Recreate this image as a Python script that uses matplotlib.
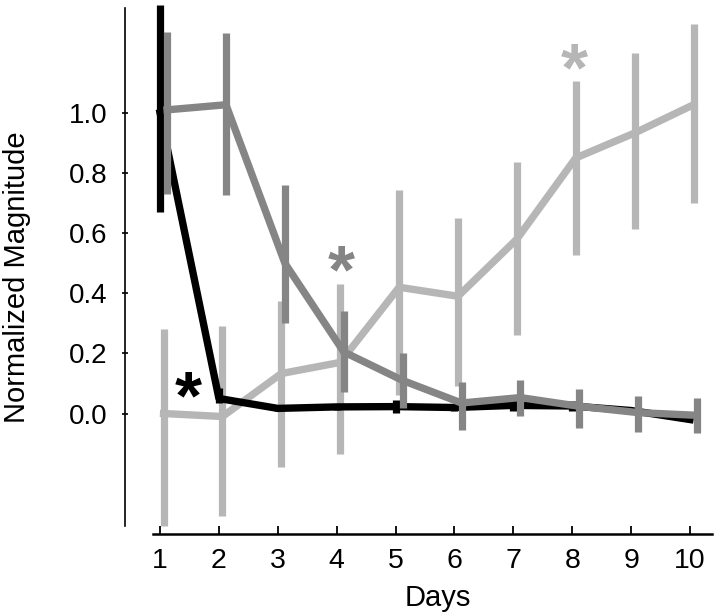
import numpy as np
import matplotlib
matplotlib.use('Agg')
import matplotlib.pyplot as plt

plt.rcParams['font.family'] = ['Liberation Sans', 'DejaVu Sans']

# Normalized magnitude over days, three groups (mean with lower / upper error)
days = np.arange(1, 11)

black_mean = [1.00, 0.05, 0.017, 0.022, 0.023, 0.020, 0.027, 0.025, 0.010, -0.020]
black_lo = [0.33, 0.015, 0.010, 0.010, 0.022, 0.010, 0.020, 0.015, 0.010, 0.0]
black_hi = [0.36, 0.035, 0.010, 0.010, 0.022, 0.010, 0.020, 0.015, 0.010, 0.0]

dark_mean = [1.01, 1.027, 0.50, 0.205, 0.11, 0.035, 0.053, 0.024, 0.003, -0.006]
dark_lo = [0.28, 0.30, 0.20, 0.135, 0.09, 0.09, 0.062, 0.071, 0.063, 0.060]
dark_hi = [0.26, 0.24, 0.26, 0.135, 0.09, 0.069, 0.060, 0.059, 0.054, 0.056]

light_mean = [0.0, -0.01, 0.133, 0.17, 0.42, 0.39, 0.58, 0.85, 0.933, 1.027]
light_lo = [0.375, 0.33, 0.31, 0.306, 0.357, 0.30, 0.318, 0.322, 0.318, 0.327]
light_hi = [0.28, 0.30, 0.24, 0.26, 0.324, 0.26, 0.257, 0.256, 0.267, 0.269]

# significance stars
star_x = [1.48, 4.07, 8.04]
star_y = [0.045, 0.462, 1.133]

c_black = '#000000'
c_dark = '#858585'
c_light = '#b6b6b6'

fig = plt.figure(figsize=(7.2, 6.16), dpi=100)
ax = fig.add_axes([0.21, 0.1325, 0.781, 0.860])

lw = 5.3
ax.errorbar(days + 0.06, light_mean, yerr=[light_lo, light_hi], color=c_light,
            lw=lw, elinewidth=5.2, capsize=0, zorder=1)
ax.errorbar(days, black_mean, yerr=[black_lo, black_hi], color=c_black,
            lw=lw, elinewidth=5.2, capsize=0, zorder=2)
ax.errorbar(days + 0.12, dark_mean, yerr=[dark_lo, dark_hi], color=c_dark,
            lw=lw, elinewidth=5.2, capsize=0, zorder=3)

for sx, sy, col in zip(star_x, star_y, [c_black, c_dark, c_light]):
    ax.text(sx, sy, '*', color=col, fontsize=50, ha='center', va='center',
            fontweight='bold')

ax.set_xlim(0.85, 10.4)
ax.set_ylim(-0.402, 1.36)

ax.spines['top'].set_visible(False)
ax.spines['right'].set_visible(False)
ax.spines['left'].set_position(('axes', -0.047))
ax.spines['left'].set_bounds(-0.375, 1.35)
ax.spines['left'].set_linewidth(1.2)
ax.spines['bottom'].set_bounds(0.88, 10.37)
ax.spines['bottom'].set_linewidth(1.8)

ax.set_xticks(days)
ax.set_yticks([0.0, 0.2, 0.4, 0.6, 0.8, 1.0])
ax.set_yticklabels(['0.0', '0.2', '0.4', '0.6', '0.8', '1.0'])
ax.tick_params(axis='x', direction='in', length=6, width=1.3, pad=10, labelsize=20.5)
ax.tick_params(axis='y', direction='inout', length=4.3, width=1.2, pad=10.4, labelsize=20)

ax.set_xlabel('Days', fontsize=21, va='center')
ax.xaxis.set_label_coords(0.51, -0.121)
ax.set_ylabel('Normalized Magnitude', fontsize=21, va='center')
ax.yaxis.set_label_coords(-0.2386, 0.486)

fig.savefig('out.png', dpi=100)
